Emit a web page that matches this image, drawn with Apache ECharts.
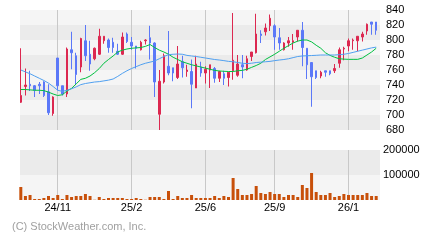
<!DOCTYPE html>
<html>
<head>
<meta charset="utf-8">
<script src="https://cdn.jsdelivr.net/npm/echarts@6/dist/echarts.min.js"></script>
<style>html,body{margin:0;padding:0;background:#fff;}#c{width:440px;height:240px;}</style>
</head>
<body>
<div id="c"></div>
<script>
// weekly candles (open, close, low, high)
const opens  = [717,738,741,739,741,744,731,702,776,739,728,787,779,764,799,781,775,781,799,800,797,785,781,808,797,792,787,799,803,796,701,744,765,763,750,771,758,758,736,764,756,760,762,749,755,750,759,753,767,760,778,783,808,811,819,819,803,787,796,797,804,813,789,770,759,752,759,759,759,769,788,792,799,799,804,812,824,824];
const closes = [726,740,739,733,739,726,703,724,739,728,788,783,754,802,779,768,789,805,805,790,790,781,804,798,792,789,797,800,796,744,745,779,756,756,768,763,760,741,768,756,761,767,749,758,749,757,773,768,764,775,784,808,806,816,829,804,796,796,799,799,813,790,767,751,750,757,757,755,762,787,789,799,800,805,808,821,821,813];
const lows   = [716,726,732,724,728,724,700,699,733,726,724,761,740,757,772,759,773,780,795,783,783,780,780,796,787,762,786,794,774,724,680,742,753,745,748,750,751,709,736,751,742,736,743,744,740,738,747,751,749,759,772,782,796,806,812,787,787,786,791,787,798,765,748,711,748,749,751,753,756,763,773,785,787,785,798,807,807,807];
const highs  = [789,762,759,740,744,745,741,725,776,739,790,811,783,803,820,799,790,815,805,802,803,795,810,810,804,792,799,801,819,797,760,782,812,763,792,779,767,774,779,771,765,767,764,759,759,757,836,780,780,779,784,835,813,822,834,821,816,797,804,808,813,824,789,770,759,759,759,759,768,790,791,802,802,805,811,822,824,824];
const maShort = [734,734,733.5,733,733,732.5,730.5,728,726,727,732,735.5,741.5,747.5,749,752,756.5,762,769,774,778.7,784,786.5,788,789,789.5,790,791.5,794,790,786.5,784,781,777,774,771,769,767,765.5,764,762.5,761,759.5,758.7,758.3,758,758,759,759.5,761,763.5,766,769,774,777.5,781,785,789,792.5,796,798.5,800,800,797.5,793,789,783,779.5,777,775,774.5,774.2,774.2,774.2,776,780,784,789];
const maLong = [760,757.5,755,752,749,746,742.5,738,733,731.5,733,735,737.5,740.5,742,743,744,744.5,745.5,746.5,748,751.5,755.5,759,762,764.5,767,769,770.5,772,775,778,780.5,781,781.3,781,779.5,778.7,778,777,776,775,774,773.3,772.5,771.5,771,770,769,768.5,769,770,770.5,771,771.5,772.5,773.3,774,775,776.5,778,778.7,779,779.3,779.6,780,780,780,780,780.5,781,782,783.5,785,786.5,788,789.5,790.5];
const volumes = [52000,16000,20000,4000,4000,8000,16000,8000,20000,4000,20000,12000,16000,16000,24000,16000,1000,12000,4000,8000,8000,8000,8000,4000,4000,8000,4000,1000,12000,12000,12000,4000,36000,4000,16000,8000,8000,20000,8000,8000,8000,8000,16000,8000,16000,12000,88000,44000,20000,20000,24000,56000,28000,24000,32000,24000,24000,12000,20000,20000,12000,60000,48000,108000,32000,20000,20000,28000,12000,16000,24000,20000,20000,20000,20000,28000,16000,16000];
const tickIdx = [8,24,40,55,71];
const tickLabels = ['24/11','25/2','25/6','25/9','26/1'];
const priceTicks = {min:680, max:840, interval:20};
const volTicks = {min:0, max:200000, interval:100000};

const categories = [];
for (let i = 0; i < opens.length; i++) {
  const d = new Date(Date.UTC(2024, 8, 6 + 7 * i));
  categories.push(d.getUTCFullYear() + '/' + (d.getUTCMonth() + 1) + '/' + d.getUTCDate());
}
const candles = opens.map((o, i) => [o, closes[i], lows[i], highs[i]]);
const tickSet = new Set(tickIdx);
const FONT = "'Liberation Sans', Arial, sans-serif";

const chart = echarts.init(document.getElementById('c'), null, {renderer: 'canvas'});
const catAxisBase = {
  type: 'category', data: categories, boundaryGap: true,
  axisLine: {show: false}, axisTick: {show: false},
  splitLine: {show: true, interval: (i) => tickSet.has(i), alignWithLabel: true, lineStyle: {color: '#c8c8c8', width: 1}},
  z: 1
};
chart.setOption({
  animation: false,
  backgroundColor: '#ffffff',
  grid: [
    {left: 20, width: 360, top: 10, height: 120},
    {left: 20, width: 360, top: 150, height: 50},
    {left: 18.5, width: 360, top: 10, height: 120},
    {left: 18.5, width: 360, top: 150, height: 50}
  ],
  xAxis: [
    {gridIndex: 0, type: 'value', show: false, min: 0, max: 1},
    {gridIndex: 1, type: 'value', show: false, min: 0, max: 1},
    Object.assign({gridIndex: 2, axisLabel: {show: false}}, catAxisBase),
    Object.assign({gridIndex: 3, axisLabel: {
      show: true, interval: (i) => tickSet.has(i), margin: 2,
      color: '#000', fontSize: 11, fontFamily: FONT,
      formatter: (v, i) => tickLabels[tickIdx.indexOf(i)] || ''
    }}, catAxisBase)
  ],
  yAxis: [
    {gridIndex: 0, type: 'value', position: 'right', min: priceTicks.min, max: priceTicks.max, interval: priceTicks.interval,
     axisLine: {show: false}, axisTick: {show: false}, splitLine: {show: false},
     splitArea: {show: true, areaStyle: {color: ['#ebebeb', '#f5f5f5']}},
     axisLabel: {margin: 6, color: '#000', fontSize: 11, fontFamily: FONT}, z: 0},
    {gridIndex: 1, type: 'value', position: 'right', min: volTicks.min, max: volTicks.max, interval: volTicks.interval,
     axisLine: {show: false}, axisTick: {show: false}, splitLine: {show: false},
     splitArea: {show: true, areaStyle: {color: ['#f5f5f5', '#ebebeb']}},
     axisLabel: {margin: 3, color: '#000', fontSize: 11, fontFamily: FONT, formatter: (v) => v === 0 ? '' : String(v)}, z: 0},
    {gridIndex: 2, type: 'value', show: false, min: priceTicks.min, max: priceTicks.max},
    {gridIndex: 3, type: 'value', show: false, min: volTicks.min, max: volTicks.max}
  ],
  series: [
    {type: 'candlestick', xAxisIndex: 2, yAxisIndex: 2, data: candles, barWidth: 2,
     itemStyle: {color: '#dc2850', color0: '#5b78f8', borderColor: '#dc2850', borderColor0: '#5b78f8', borderWidth: 1}},
    {type: 'line', xAxisIndex: 2, yAxisIndex: 2, data: maShort, showSymbol: false, symbol: 'none',
     lineStyle: {color: '#00c040', width: 1}},
    {type: 'line', xAxisIndex: 2, yAxisIndex: 2, data: maLong, showSymbol: false, symbol: 'none',
     lineStyle: {color: '#50a0f0', width: 1}},
    {type: 'bar', xAxisIndex: 3, yAxisIndex: 3, data: volumes, barWidth: 3,
     itemStyle: {color: '#c8500a'}}
  ],
  graphic: [
    {type: 'text', left: 12, top: 221, style: {text: '(C) StockWeather.com, Inc.', fill: '#a0a0a0', font: "11px 'Liberation Sans', Arial, sans-serif"}}
  ]
});
</script>
</body>
</html>
